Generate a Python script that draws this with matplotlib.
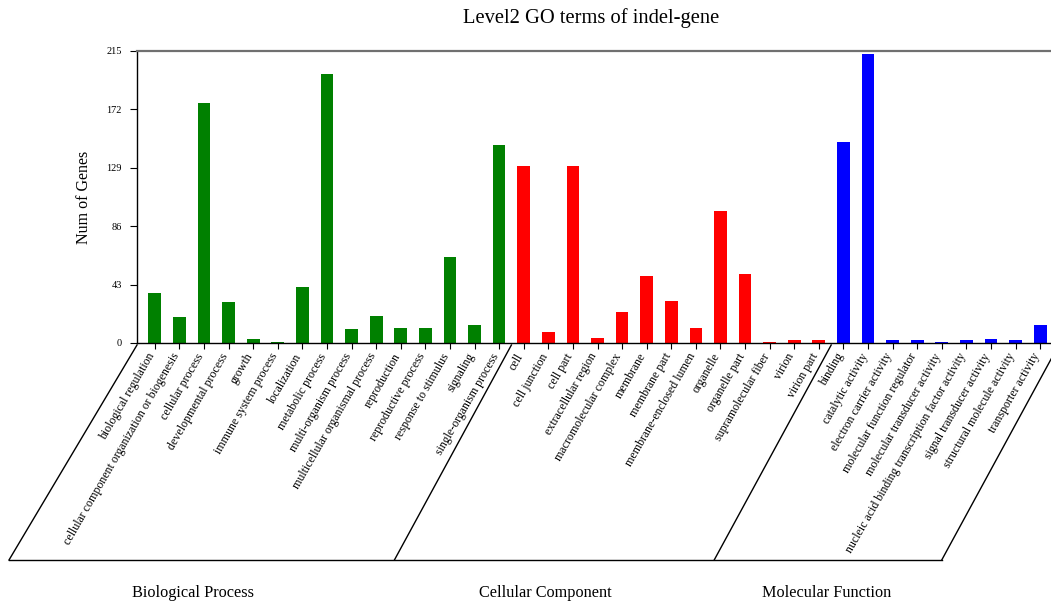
import matplotlib
matplotlib.use("Agg")
import matplotlib.pyplot as plt
from matplotlib.lines import Line2D
from matplotlib.transforms import ScaledTranslation
import numpy as np

plt.rcParams['font.family'] = ['Liberation Serif', 'DejaVu Serif']

bp_terms = ["biological regulation", "cellular component organization or biogenesis",
            "cellular process", "developmental process", "growth", "immune system process",
            "localization", "metabolic process", "multi-organism process",
            "multicellular organismal process", "reproduction", "reproductive process",
            "response to stimulus", "signaling", "single-organism process"]
bp_counts = [37, 19, 177, 30, 3, 1, 41, 198, 10, 20, 11, 11, 63, 13, 146]

cc_terms = ["cell", "cell junction", "cell part", "extracellular region",
            "macromolecular complex", "membrane", "membrane part",
            "membrane-enclosed lumen", "organelle", "organelle part",
            "supramolecular fiber", "virion", "virion part"]
cc_counts = [130, 8, 130, 4, 23, 49, 31, 11, 97, 51, 1, 2, 2]

mf_terms = ["binding", "catalytic activity", "electron carrier activity",
            "molecular function regulator", "molecular transducer activity",
            "nucleic acid binding transcription factor activity",
            "signal transducer activity", "structural molecule activity",
            "transporter activity"]
mf_counts = [148, 213, 2, 2, 1, 2, 3, 2, 13]

groups = ["Biological Process", "Cellular Component", "Molecular Function"]
group_colors = ["#008000", "#ff0000", "#0000ff"]
yticks = [0, 43, 86, 129, 172, 215]

terms = bp_terms + cc_terms + mf_terms
counts = bp_counts + cc_counts + mf_counts
sizes = [len(bp_terms), len(cc_terms), len(mf_terms)]
colors = []
for c, n in zip(group_colors, sizes):
    colors += [c] * n

W, H = 1051, 604
fig = plt.figure(figsize=(W / 100, H / 100), dpi=100)
# axes runs a bit past the right edge, as in the original
ax = fig.add_axes([137 / W, 261 / H, (1058 - 137) / W, 292 / H])

x = np.arange(len(terms))
ax.bar(x, counts, width=0.52, color=colors)

ax.set_xlim(-0.72, len(terms) - 0.28)
ax.set_ylim(0, 215)
ax.set_yticks(yticks)
ax.set_yticklabels([str(v) for v in yticks], fontsize=7.5)
ax.set_xticks(x)
ax.set_xticklabels(terms, rotation=60, ha='right', va='center',
                   rotation_mode='anchor', fontsize=8.6)
ax.tick_params(axis='y', length=5, width=0.8, pad=6)
ax.tick_params(axis='x', length=4, width=0.8, pad=4)
shift_lbl = ScaledTranslation(-3 / 100, 0, fig.dpi_scale_trans)
for lbl in ax.get_xticklabels():
    lbl.set_transform(lbl.get_transform() + shift_lbl)

ax.spines['right'].set_visible(False)
ax.spines['top'].set_color('#707070')
ax.spines['top'].set_linewidth(1.6)
ax.spines['left'].set_linewidth(1.0)
ax.spines['bottom'].set_linewidth(1.0)

ax.set_ylabel("Num of Genes", fontsize=11.5, labelpad=10)
fig.text(591 / W, 1 - 18 / H, "Level2 GO terms of indel-gene",
         fontsize=14.8, ha='center', va='center')

# group brackets: slanted separators and a bottom line
bounds = [-0.72, sizes[0] - 0.5, sizes[0] + sizes[1] - 0.5, len(terms) - 0.25]
top_y = 345
bot_y = 560
shift = 117
bottoms = []
for i, b in enumerate(bounds):
    px, _ = ax.transData.transform((b, 0))
    bx = px - shift - (11 if i == 0 else 0)
    bottoms.append(bx)
    fig.add_artist(Line2D([px / W, bx / W], [1 - top_y / H, 1 - bot_y / H],
                          color='black', lw=1.0))
fig.add_artist(Line2D([bottoms[0] / W, bottoms[-1] / W],
                      [1 - bot_y / H, 1 - bot_y / H], color='black', lw=1.0))

label_x = [193, 545, 827]
for name, lx in zip(groups, label_x):
    fig.text(lx / W, 1 - 593 / H, name, fontsize=11.7, ha='center', va='center')

fig.savefig("out.png", dpi=100)
